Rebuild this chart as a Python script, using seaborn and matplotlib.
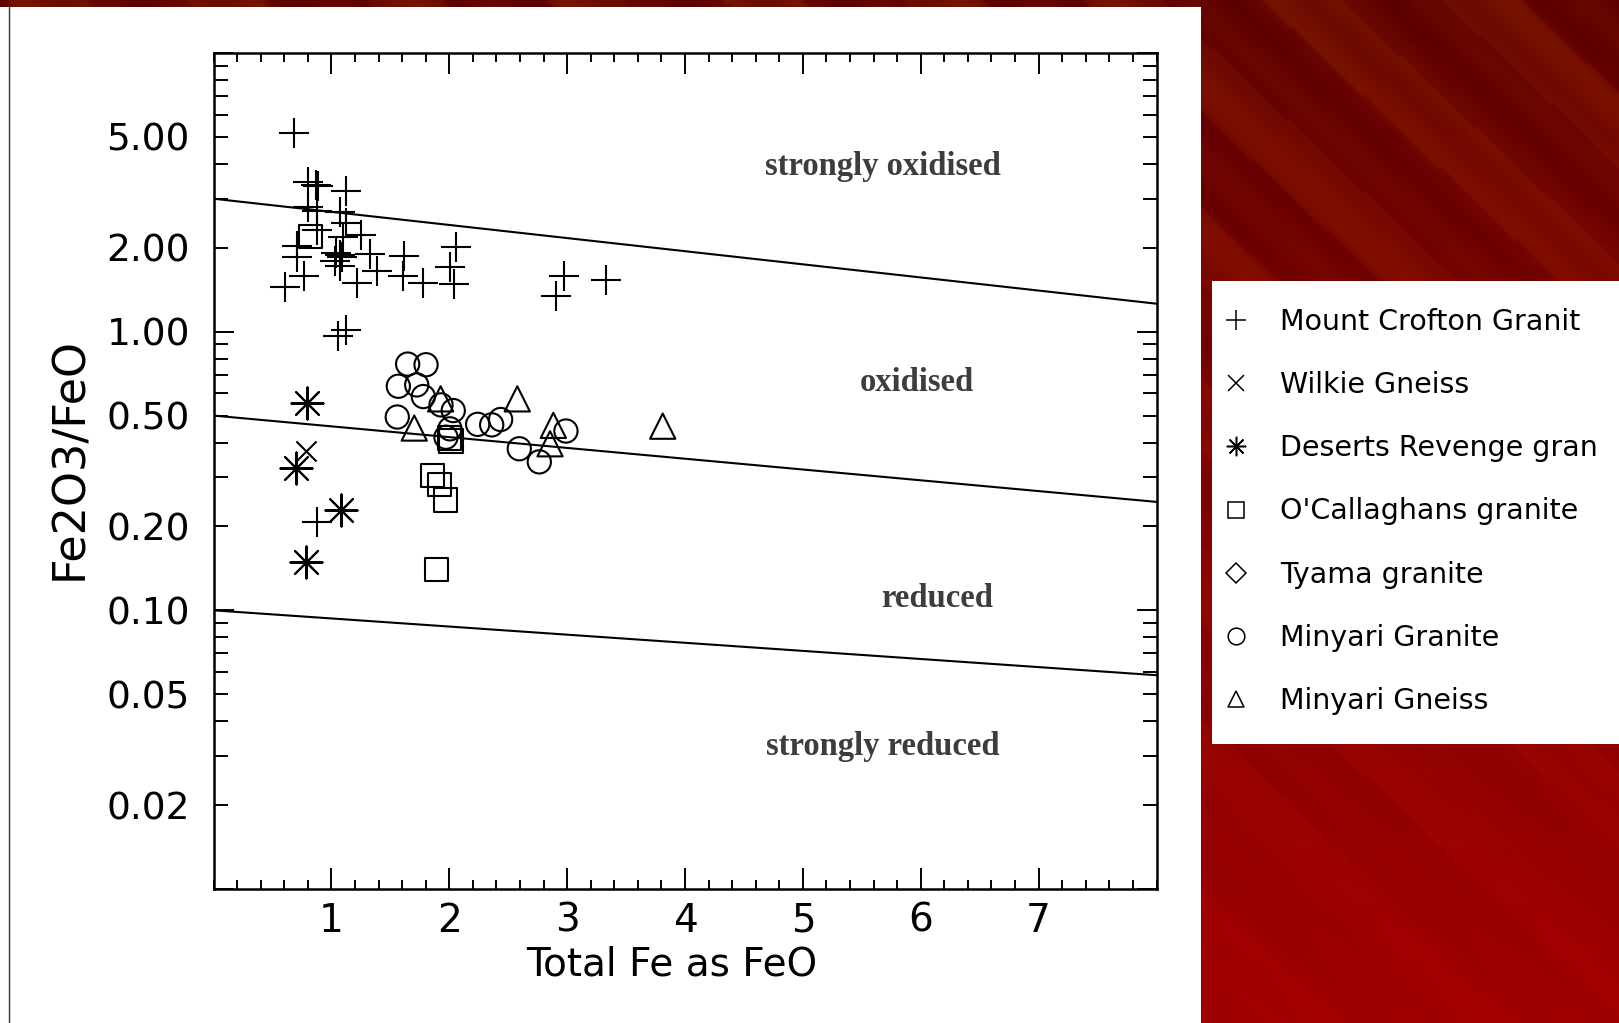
import numpy as np
import matplotlib
matplotlib.use("Agg")
import matplotlib.pyplot as plt
from matplotlib import font_manager
from matplotlib.ticker import FixedLocator, FuncFormatter, MultipleLocator
from matplotlib.patches import Rectangle
from matplotlib.lines import Line2D
from matplotlib.markers import MarkerStyle
import seaborn as sns

# ---------------- data ----------------
series_names = ["Mount Crofton Granit", "Wilkie Gneiss", "Deserts Revenge gran",
                "O'Callaghans granite", "Tyama granite", "Minyari Granite", "Minyari Gneiss"]

crofton_x = [0.68, 0.80, 0.87, 0.89, 1.12, 0.80, 0.875, 1.07, 1.12, 0.875, 1.10, 1.25,
             0.71, 0.71, 1.07, 1.33, 1.03, 1.07, 1.04, 1.09, 0.77, 0.61, 1.215, 1.39, 1.62, 1.61, 1.78,
             2.06, 2.01, 2.04, 2.97, 2.905, 3.33, 1.12, 1.06, 0.88]
crofton_y = [5.18, 3.44, 3.37, 3.34, 3.19, 2.80, 2.70, 2.68, 2.46, 2.32, 2.18, 2.23,
             2.03, 1.85, 1.89, 1.90, 1.79, 1.72, 1.92, 1.85, 1.58, 1.45, 1.50, 1.65, 1.87, 1.58, 1.50,
             2.01, 1.70, 1.48, 1.58, 1.34, 1.53, 1.01, 0.966, 0.207]

wilkie_x = [0.785]
wilkie_y = [0.372]

deserts_x = [0.79, 0.70, 1.08, 0.785]
deserts_y = [0.554, 0.324, 0.230, 0.149]

ocallaghans_x = [0.82, 2.00, 2.015, 1.86, 1.915, 1.97, 1.89]
ocallaghans_y = [2.20, 0.415, 0.405, 0.304, 0.283, 0.249, 0.140]

tyama_x = []
tyama_y = []

minyari_granite_x = [1.647, 1.803, 1.568, 1.724, 1.78, 1.93, 2.034, 1.559, 2.006, 1.972,
                     2.241, 2.36, 2.436, 2.594, 2.764, 2.99]
minyari_granite_y = [0.765, 0.761, 0.637, 0.644, 0.585, 0.546, 0.521, 0.494, 0.448, 0.418,
                     0.465, 0.463, 0.484, 0.380, 0.341, 0.440]

minyari_gneiss_x = [1.927, 1.703, 2.577, 2.883, 2.855, 3.811]
minyari_gneiss_y = [0.574, 0.451, 0.574, 0.461, 0.396, 0.458]

boundary_x = [0.0, 8.0]
boundary_upper = [3.0, 1.26]
boundary_middle = [0.5, 0.245]
boundary_lower = [0.1, 0.0585]

zone_labels = ["strongly oxidised", "oxidised", "reduced", "strongly reduced"]
zone_label_x = [5.68, 5.97, 6.14, 5.68]
zone_label_y = [3.90, 0.655, 0.110, 0.0325]

x_tick_values = [1, 2, 3, 4, 5, 6, 7]
x_tick_labels = ["1", "2", "3", "4", "5", "6", "7"]
y_tick_values = [0.02, 0.05, 0.10, 0.20, 0.50, 1.00, 2.00, 5.00]
y_tick_labels = ["0.02", "0.05", "0.10", "0.20", "0.50", "1.00", "2.00", "5.00"]

x_label = "Total Fe as FeO"
y_label = "Fe2O3/FeO"

series_x = [crofton_x, wilkie_x, deserts_x, ocallaghans_x, tyama_x, minyari_granite_x, minyari_gneiss_x]
series_y = [crofton_y, wilkie_y, deserts_y, ocallaghans_y, tyama_y, minyari_granite_y, minyari_gneiss_y]

# ---------------- styles ----------------
marker_styles = {
    "Mount Crofton Granit": ("+", 440),
    "Wilkie Gneiss": ("x", 210),
    "Deserts Revenge gran": ((8, 2, 0), 530),
    "O'Callaghans granite": ("s", 280),
    "Tyama granite": ("D", 200),
    "Minyari Granite": ("o", 280),
    "Minyari Gneiss": ("^", 330),
}
legend_marker_sizes = {
    "Mount Crofton Granit": 14, "Wilkie Gneiss": 11, "Deserts Revenge gran": 14,
    "O'Callaghans granite": 11, "Tyama granite": 10, "Minyari Granite": 12, "Minyari Gneiss": 12,
}

sns.set_style("ticks")
installed = {f.name for f in font_manager.fontManager.ttflist}
if "Liberation Sans Narrow" in installed:
    narrow = ["Liberation Sans Narrow", "DejaVu Sans"]
    leg_size, xlab_size, xtick_size = 29, 33, 30
else:
    narrow = ["DejaVu Sans"]
    leg_size, xlab_size, xtick_size = 20.5, 28, 28
plt.rcParams["font.family"] = ["DejaVu Sans"]

FW, FH = 1619, 1023
fig = plt.figure(figsize=(FW / 100, FH / 100), dpi=100)

# background (slide texture)
Hh, Ww = 256, 405
yy, xx = np.mgrid[0:1:Hh * 1j, 0:1:Ww * 1j]
phase = 9.0 * xx - 6.0 * yy
streak = (np.sin(2 * np.pi * phase) > 0.2).astype(float) * 0.6 + 0.4 * (0.5 + 0.5 * np.sin(2 * np.pi * 2.3 * phase))
R = 0.36 + 0.26 * yy + 0.10 * streak * (1 - 0.7 * yy)
G = 0.07 * streak * (1 - yy)
B = np.zeros_like(R)
img = np.clip(np.dstack([R, G, B]), 0, 1)
bg = fig.add_axes([0, 0, 1, 1], zorder=-10)
bg.imshow(img, aspect="auto", extent=[0, 1, 0, 1], origin="upper", interpolation="bilinear")
bg.set_xlim(0, 1)
bg.set_ylim(0, 1)
bg.axis("off")
bg.add_patch(Rectangle((0, 0), 1201 / FW, 1 - 7 / FH, facecolor="white", edgecolor="none"))
bg.plot([9 / FW, 9 / FW], [0, 1 - 7 / FH], color="#333333", lw=1.0)
# white legend panel
bg.add_patch(Rectangle((1212 / FW, 1 - 744 / FH), (FW - 1212) / FW, (744 - 281) / FH,
                       facecolor="white", edgecolor="none"))

# main axes
ax = fig.add_axes([213.5 / FW, 1 - 889 / FH, (1156.5 - 213.5) / FW, (889 - 53) / FH])
ax.set_facecolor("white")

for name, xs, ys in zip(series_names, series_x, series_y):
    if len(xs) == 0:
        continue
    mk, size = marker_styles[name]
    if MarkerStyle(mk).is_filled():
        sns.scatterplot(x=xs, y=ys, ax=ax, marker=mk, s=size, color="black",
                        facecolor="none", edgecolor="black", linewidth=1.5, legend=False, zorder=3)
    else:
        sns.scatterplot(x=xs, y=ys, ax=ax, marker=mk, s=size, color="black",
                        linewidth=1.5, legend=False, zorder=3)

for yb in (boundary_upper, boundary_middle, boundary_lower):
    sns.lineplot(x=boundary_x, y=yb, ax=ax, color="black", lw=1.5, legend=False, zorder=2)

ax.set_yscale("log")
ax.set_xlim(0, 8)
ax.set_ylim(0.01, 10)

# ticks
ax.xaxis.set_major_locator(FixedLocator(x_tick_values))
ax.xaxis.set_major_formatter(FuncFormatter(
    lambda v, p: dict(zip(x_tick_values, x_tick_labels)).get(int(round(v)), "")))
ax.xaxis.set_minor_locator(MultipleLocator(0.2))

label_map = {round(v, 4): s for v, s in zip(y_tick_values, y_tick_labels)}
ax.yaxis.set_major_locator(FixedLocator([0.01, 0.1, 1.0, 10.0]))
minor_y = [m * 10.0 ** k for k in (-2, -1, 0) for m in range(2, 10)]
ax.yaxis.set_minor_locator(FixedLocator(minor_y))
fmt = FuncFormatter(lambda v, p: label_map.get(round(v, 4), ""))
ax.yaxis.set_major_formatter(fmt)
ax.yaxis.set_minor_formatter(fmt)

ax.tick_params(axis="both", which="both", direction="in", top=True, right=True,
               width=1.4, color="black", labelcolor="black")
ax.tick_params(axis="x", which="major", length=15, pad=9, labelsize=xtick_size,
               labelfontfamily=narrow[0])
ax.tick_params(axis="x", which="minor", length=6.5)
ax.tick_params(axis="y", which="major", length=14.5, pad=17, labelsize=27,
               labelfontfamily="DejaVu Sans")
ax.tick_params(axis="y", which="minor", length=10, pad=17, labelsize=27,
               labelfontfamily="DejaVu Sans")
for sp in ax.spines.values():
    sp.set_visible(True)
    sp.set_linewidth(1.8)
    sp.set_color("black")

ax.set_xlabel(x_label, fontsize=xlab_size, family=narrow, color="black")
ax.set_ylabel(y_label, fontsize=32, family=["DejaVu Sans"], color="black")
ax.xaxis.set_label_coords(0.486, -0.068)
ax.yaxis.set_label_coords(-0.130, 0.515)

for t, xv, yv in zip(zone_labels, zone_label_x, zone_label_y):
    ax.text(xv, yv, t, ha="center", va="center", fontsize=23.5, fontweight="bold",
            family=["Liberation Serif", "DejaVu Serif"], color="#3d3d3d", zorder=4)

# legend
handles = [Line2D([], [], linestyle="none", marker=marker_styles[n][0],
                  markersize=legend_marker_sizes[n],
                  color="black", markerfacecolor="none", markeredgewidth=1.1)
           for n in series_names]
fp = font_manager.FontProperties(family=narrow, size=leg_size)
Fpx = leg_size * 100 / 72
hl = 0.8
x0 = 1236 - hl * Fpx / 2
leg = fig.legend(handles, series_names, loc="upper left",
                 bbox_to_anchor=(x0 / FW, 1 - 308 / FH), bbox_transform=fig.transFigure,
                 frameon=False, prop=fp, labelspacing=45.2 / leg_size - 0.97,
                 handlelength=hl, handletextpad=(1280 - x0 - hl * Fpx) / Fpx,
                 borderpad=0, borderaxespad=0)
for t in leg.get_texts():
    t.set_color("black")

fig.savefig("out.png", dpi=100)
